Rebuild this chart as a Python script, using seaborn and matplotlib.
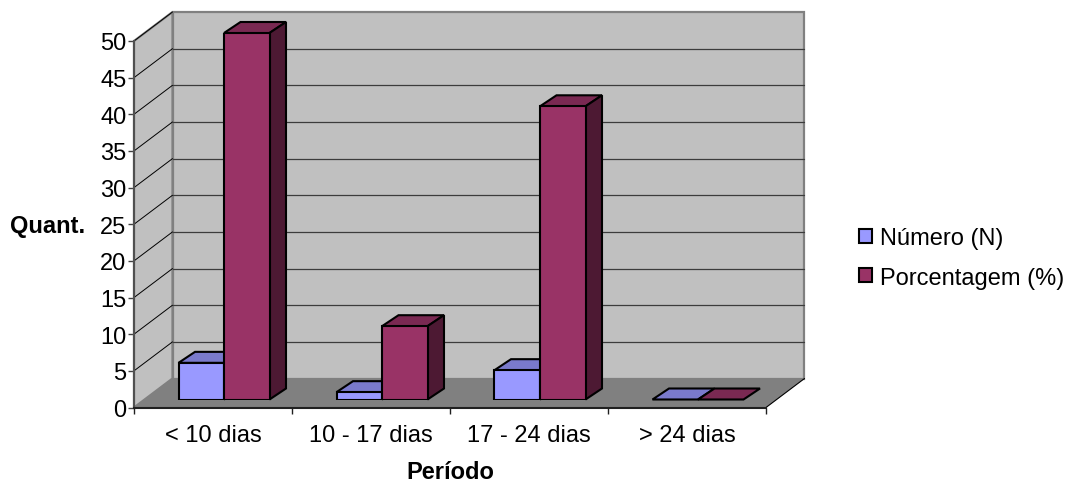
import matplotlib
matplotlib.use('Agg')
import matplotlib.pyplot as plt
from matplotlib.patches import Polygon
import pandas as pd
import seaborn as sns

periodos = ['< 10 dias', '10 - 17 dias', '17 - 24 dias', '> 24 dias']
numero = [5, 1, 4, 0]
porcentagem = [50, 10, 40, 0]
y_ticks = [0, 5, 10, 15, 20, 25, 30, 35, 40, 45, 50]

W, H = 1066, 485
# front plane of the box, in pixels
LEFT, RIGHT, BASE, TOP = 134, 766, 408.5, 42
BOX_DX, BOX_DY = 38.5, 29      # depth of the whole box
BAR_OFF_X, BAR_OFF_Y = 11, 8   # bars start this far into the box
BAR_DX, BAR_DY = 16.5, 11      # depth of one bar

df = pd.DataFrame({
    'periodo': periodos * 2,
    'valor': numero + porcentagem,
    'serie': ['Número (N)'] * 4 + ['Porcentagem (%)'] * 4,
})

sns.set_theme(style='white')
plt.rcParams['font.family'] = ['Liberation Sans', 'DejaVu Sans']
FS = 17

fig = plt.figure(figsize=(W / 100, H / 100), dpi=100, facecolor='white')
pos = [LEFT / W, (H - BASE) / H, (RIGHT - LEFT) / W, (BASE - TOP) / H]
ax = fig.add_axes(pos)
bar_ax = fig.add_axes([pos[0] + BAR_OFF_X / W, pos[1] + BAR_OFF_Y / H, pos[2], pos[3]])
bar_ax.patch.set_alpha(0)

px_x = 4 / (RIGHT - LEFT)
px_y = 50 / (BASE - TOP)
x0, x1 = -0.5, 3.5
bx = BOX_DX * px_x
by = BOX_DY * px_y

for a in (ax, bar_ax):
    a.set_xlim(x0, x1)
    a.set_ylim(0, 50)

# walls and floor
ax.patch.set_alpha(0)
ax.add_patch(Polygon([(x0 + bx, by), (x1 + bx, by), (x1 + bx, 50 + by), (x0 + bx, 50 + by)],
                     fc='#C0C0C0', ec='#808080', lw=1.6, clip_on=False, zorder=1))
ax.add_patch(Polygon([(x0, 0), (x0 + bx, by), (x0 + bx, 50 + by), (x0, 50)],
                     fc='#C0C0C0', ec='#808080', lw=1.6, clip_on=False, zorder=1))
ax.add_patch(Polygon([(x0, 0), (x1, 0), (x1 + bx, by), (x0 + bx, by)],
                     fc='#808080', ec='none', clip_on=False, zorder=1.5))
ax.plot([x1, x1 + bx], [0, by], color='black', lw=0.8, clip_on=False, zorder=2)
for t in y_ticks[1:-1]:
    ax.plot([x0 + bx, x1 + bx], [t + by, t + by], color='#3c3c3c', lw=0.9, clip_on=False, zorder=2)
for t in y_ticks[1:]:
    ax.plot([x0, x0 + bx], [t, t + by], color='black', lw=0.7, clip_on=False, zorder=2)

# bars
sns.barplot(data=df, x='periodo', y='valor', hue='serie', order=periodos,
            palette=['#9999FF', '#993366'], width=91 / 158, gap=0,
            edgecolor='black', linewidth=1.5, saturation=1, legend=True, ax=bar_ax)
tops = ['#7A7ACC', '#7A2952']
sides = ['#4D4D80', '#4D1933']
dx = BAR_DX * px_x
dy = BAR_DY * px_y
for i, container in enumerate(bar_ax.containers):
    for bar in container:
        l, w, h = bar.get_x(), bar.get_width(), bar.get_height()
        r = l + w
        bar.set_zorder(3 + i + 0.5)
        bar_ax.add_patch(Polygon([(l, h), (r, h), (r + dx, h + dy), (l + dx, h + dy)],
                                 fc=tops[i], ec='black', lw=1.5, clip_on=False, zorder=3 + i))
        if h > 0:
            bar_ax.add_patch(Polygon([(r, 0), (r + dx, dy), (r + dx, h + dy), (r, h)],
                                     fc=sides[i], ec='black', lw=1.5, clip_on=False, zorder=3 + i))
bar_ax.set_xlim(x0, x1)
bar_ax.set_ylim(0, 50)
bar_ax.axis('off')

handles, labels = bar_ax.get_legend_handles_labels()
bar_ax.get_legend().remove()
leg = fig.legend(handles, labels, loc='center left', bbox_to_anchor=(852 / W, 1 - 259 / H),
                 frameon=False, fontsize=FS, handlelength=0.55, handleheight=0.55,
                 handletextpad=0.34, labelspacing=0.72, borderpad=0.3, borderaxespad=0)
for t in leg.get_texts():
    t.set_color('black')

# axes
for s in ('top', 'right'):
    ax.spines[s].set_visible(False)
ax.spines['left'].set_color('#505050')
ax.spines['bottom'].set_color('#202020')
ax.spines['left'].set_linewidth(1.5)
ax.spines['bottom'].set_linewidth(1.5)
ax.spines['left'].set_zorder(2.5)
ax.spines['bottom'].set_zorder(2.5)
ax.set_yticks(y_ticks)
ax.set_xticks([x0, 0.5, 1.5, 2.5, x1])
ax.set_xticklabels([])
ax.set_xticks(range(4), periodos, minor=True)
ax.tick_params(axis='x', which='major', bottom=True, length=4.5, width=1, color='#202020')
ax.tick_params(axis='x', which='minor', bottom=False, length=0, labelsize=FS, pad=12, colors='black')
ax.tick_params(axis='y', left=True, length=4.5, width=1, color='#404040', labelsize=FS, pad=1,
               labelcolor='black')
ax.set_xlabel('Período', fontsize=FS, fontweight='bold', color='black')
ax.xaxis.set_label_coords((450.5 - LEFT) / (RIGHT - LEFT), (BASE - 479.5) / (BASE - TOP), transform=ax.transAxes)
ax.xaxis.label.set_va('baseline')
ax.set_ylabel('Quant.', fontsize=FS, fontweight='bold', rotation=0, color='black')
ax.yaxis.set_label_coords((48 - LEFT) / (RIGHT - LEFT), (BASE - 226) / (BASE - TOP), transform=ax.transAxes)
ax.yaxis.label.set_ha('center')
ax.yaxis.label.set_va('center')

fig.savefig('out.png', dpi=100)
plt.close(fig)
